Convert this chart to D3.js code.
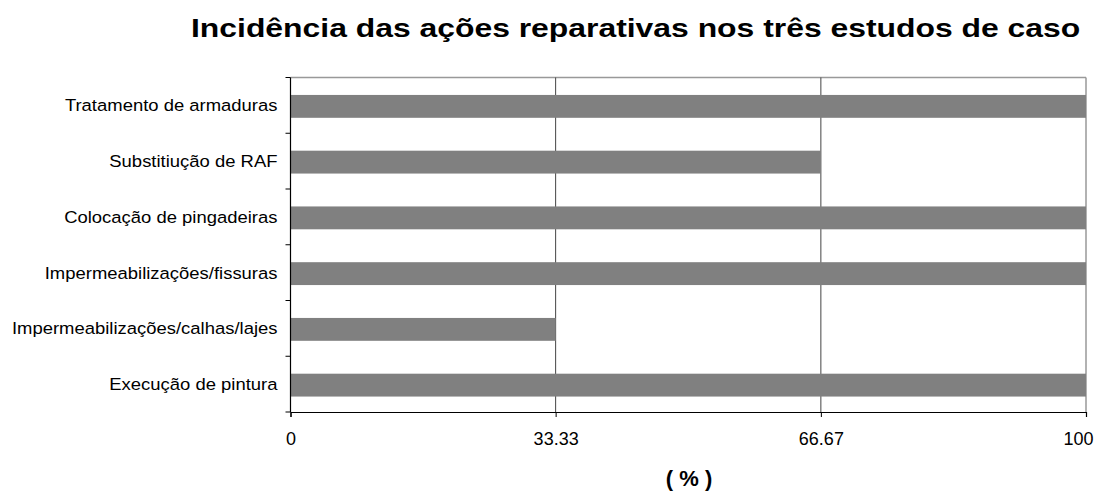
<!DOCTYPE html>
<html>
<head>
<meta charset="utf-8">
<script src="https://cdn.jsdelivr.net/npm/d3@7"></script>
<style>
  body { margin: 0; background: #fff; }
  text { font-family: "Liberation Sans", Arial, sans-serif; fill: #000; }
</style>
</head>
<body>
<svg id="chart" width="1095" height="491"></svg>
<script>
// Repair actions and their incidence (%) across the three case studies
const categories = [
  "Tratamento de armaduras",
  "Substitiução de RAF",
  "Colocação de pingadeiras",
  "Impermeabilizações/fissuras",
  "Impermeabilizações/calhas/lajes",
  "Execução de pintura"
];
const values = [100, 66.67, 100, 100, 33.33, 100];
const xTicks = [0, 33.33, 66.67, 100];
const xTickLabels = ["0", "33.33", "66.67", "100"];

const svg = d3.select("#chart");
const m = { left: 290.5, right: 1086, top: 77.5, bottom: 412 };

const x = d3.scaleLinear().domain([0, 100]).range([m.left, m.right]);
const yb = d3.scaleBand().domain(categories).range([m.top, m.bottom]);
const barFrac = 0.41;

// title (wide lettering)
svg.append("text")
  .attr("transform", "translate(191,37) scale(1.25,1)")
  .style("font-size", "25.5px").style("font-weight", "bold")
  .text("Incidência das ações reparativas nos três estudos de caso");

// frame top edge in gray
svg.append("line").attr("x1", m.left).attr("x2", m.right).attr("y1", m.top).attr("y2", m.top)
  .attr("stroke", "#999").attr("stroke-width", 1.5);

// vertical gridlines
svg.append("g").selectAll("line").data(xTicks.slice(1)).join("line")
  .attr("x1", d => x(d)).attr("x2", d => x(d))
  .attr("y1", m.top).attr("y2", m.bottom)
  .attr("stroke", d => d === 100 ? "#999" : "#444")
  .attr("stroke-width", d => d === 100 ? 1.5 : 1);

// bars
svg.append("g").selectAll("rect").data(categories).join("rect")
  .attr("x", x(0))
  .attr("y", d => yb(d) + yb.bandwidth() * (1 - barFrac) / 2 + 1)
  .attr("width", (d, i) => x(values[i]) - x(0))
  .attr("height", yb.bandwidth() * barFrac)
  .attr("fill", "#808080");

// x axis
const xAxis = d3.axisBottom(x).tickValues(xTicks)
  .tickFormat((d, i) => xTickLabels[i]).tickSize(5).tickPadding(15);
const gx = svg.append("g").attr("transform", `translate(0,${m.bottom})`).call(xAxis);
gx.select(".domain").attr("stroke", "#000").attr("stroke-width", 1.2);
gx.selectAll(".tick line").attr("stroke", "#000");
gx.selectAll("text").style("font-size", "18px").attr("fill", "#000");
// keep the last label inside the canvas
gx.selectAll(".tick text").filter(d => d === 100).attr("text-anchor", "end").attr("x", 7);

// y axis: ticks at category boundaries
const bounds = categories.map(c => yb(c)).concat([m.bottom]);
svg.append("line").attr("x1", m.left).attr("x2", m.left).attr("y1", m.top).attr("y2", m.bottom)
  .attr("stroke", "#000").attr("stroke-width", 1.2);
svg.append("g").selectAll("line").data(bounds).join("line")
  .attr("x1", m.left - 5).attr("x2", m.left)
  .attr("y1", d => d).attr("y2", d => d)
  .attr("stroke", "#000");
svg.append("g").selectAll("text").data(categories).join("text")
  .attr("transform", d => `translate(${m.left - 13},${yb(d) + yb.bandwidth() / 2}) scale(1.086,1)`)
  .attr("dy", "0.35em")
  .attr("text-anchor", "end")
  .style("font-size", "17px")
  .text(d => d);

// x axis title
svg.append("text")
  .attr("x", 689).attr("y", 486)
  .attr("text-anchor", "middle")
  .style("font-size", "22px").style("font-weight", "bold")
  .text("( % )");
</script>
</body>
</html>
